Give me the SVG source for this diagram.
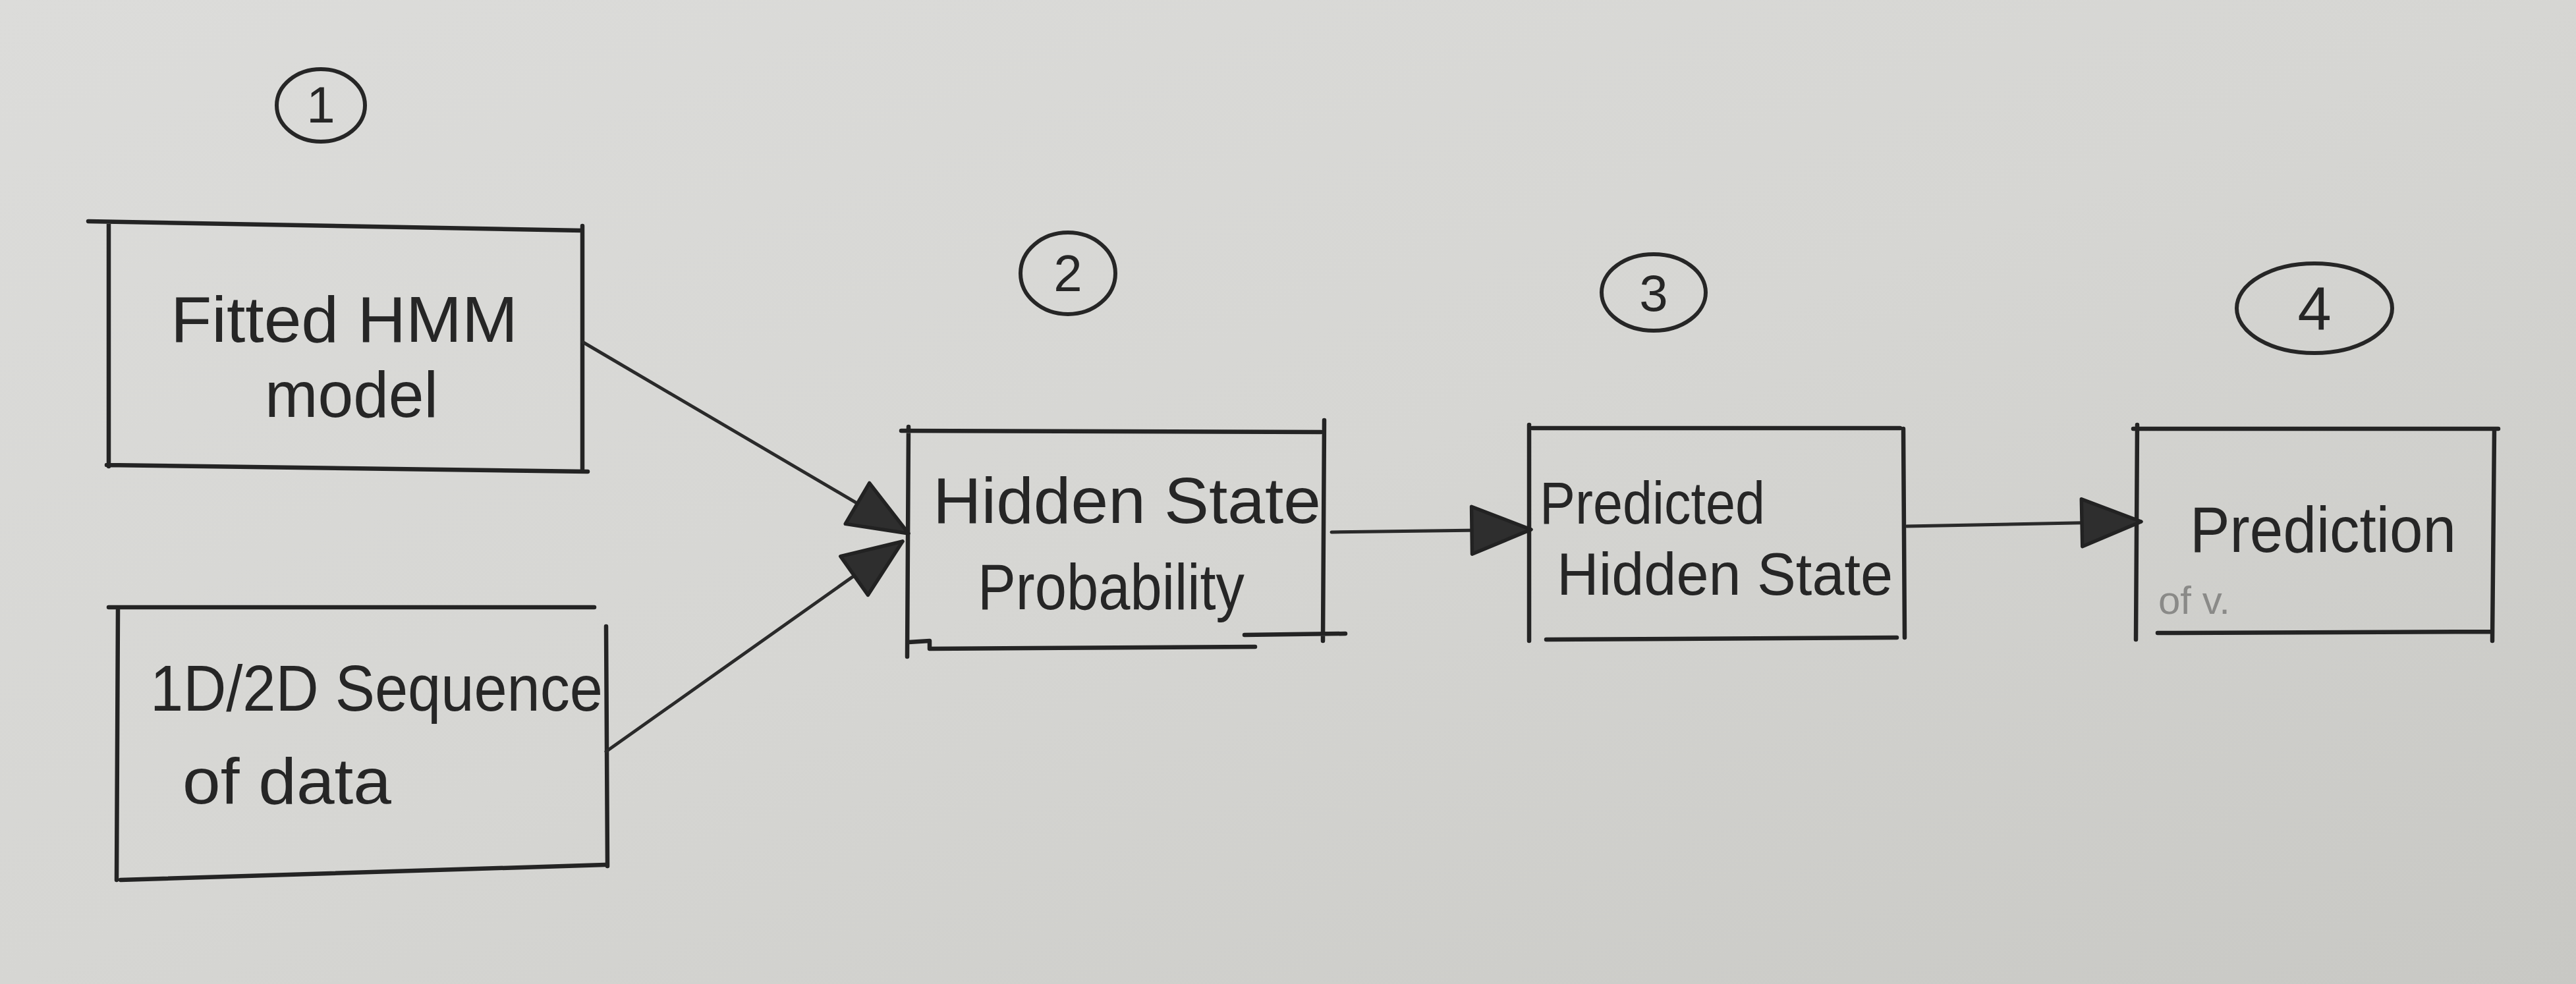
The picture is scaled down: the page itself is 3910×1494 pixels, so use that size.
<svg xmlns="http://www.w3.org/2000/svg" width="3910" height="1494" viewBox="0 0 3910 1494">
<defs>
<linearGradient id="paper" x1="0" y1="0" x2="1" y2="1">
<stop offset="0" stop-color="#dcdcda"/>
<stop offset="0.5" stop-color="#d6d6d3"/>
<stop offset="1" stop-color="#c8c8c4"/>
</linearGradient>
<marker id="ah" viewBox="0 0 12 10" refX="11" refY="5" markerWidth="110" markerHeight="90" markerUnits="userSpaceOnUse" orient="auto">
<path d="M1,1 L11,5 L1,9 Z" fill="#2e2e2e" stroke="#222" stroke-width="0.6" stroke-linejoin="round"/>
</marker>
<style>
.edge{fill:none;stroke:#2a2a2a;stroke-width:5;stroke-linecap:round;marker-end:url(#ah)}
.box{fill:none;stroke:#242424;stroke-width:6.5;stroke-linecap:round;stroke-linejoin:round}
.lbl{font-family:"Liberation Sans",Arial,sans-serif;font-size:98px;fill:#262626}
.num{font-family:"Liberation Sans",Arial,sans-serif;font-size:78px;fill:#262626;text-anchor:middle}
.circ{fill:none;stroke:#262626;stroke-width:6}
.faint{font-family:"Liberation Sans",Arial,sans-serif;font-size:60px;fill:#8a8a88}
</style>
</defs>
<rect width="3910" height="1494" fill="url(#paper)"/>

<g id="step1">
<ellipse class="circ" cx="487" cy="160" rx="67" ry="55"/>
<text class="num" x="487" y="186">1</text>
</g>
<g id="step2">
<ellipse class="circ" cx="1621" cy="415" rx="72" ry="62"/>
<text class="num" x="1621" y="442">2</text>
</g>
<g id="step3">
<ellipse class="circ" cx="2510" cy="444" rx="79" ry="58"/>
<text class="num" x="2510" y="472">3</text>
</g>
<g id="step4">
<ellipse class="circ" cx="3513" cy="468" rx="118" ry="68"/>
<text class="num" x="3513" y="500" style="font-size:92px">4</text>
</g>

<g id="fitted-hmm">
<path class="box" d="M134,336 L884,350 M165,340 L165,708 M884,343 L884,712 M162,706 L892,716"/>
<text class="lbl" x="259" y="519" textLength="527" lengthAdjust="spacingAndGlyphs">Fitted HMM</text>
<text class="lbl" x="402" y="633" textLength="263" lengthAdjust="spacingAndGlyphs">model</text>
</g>

<g id="sequence-data">
<path class="box" d="M165,922 L902,922 M179,925 L177,1336 M920,951 L922,1315 M183,1336 L918,1313"/>
<text class="lbl" x="228" y="1079" textLength="687" lengthAdjust="spacingAndGlyphs">1D/2D Sequence</text>
<text class="lbl" x="277" y="1220" textLength="317" lengthAdjust="spacingAndGlyphs">of data</text>
</g>

<g id="hidden-state-probability">
<path class="box" d="M1368,654 L2005,656 M1379,648 L1377,997 M2010,638 L2008,973 M1379,975 L1411,973 L1411,985 L1905,982 M1889,964 L2042,962"/>
<text class="lbl" x="1416" y="794" textLength="589" lengthAdjust="spacingAndGlyphs">Hidden State</text>
<text class="lbl" x="1484" y="925" textLength="405" lengthAdjust="spacingAndGlyphs">Probability</text>
</g>

<g id="predicted-hidden-state">
<path class="box" d="M2326,650 L2884,650 M2321,645 L2321,973 M2889,651 L2891,968 M2347,971 L2879,968"/>
<text class="lbl" x="2337" y="795" textLength="342" lengthAdjust="spacingAndGlyphs" style="font-size:90px">Predicted</text>
<text class="lbl" x="2363" y="903" textLength="510" lengthAdjust="spacingAndGlyphs" style="font-size:90px">Hidden State</text>
</g>

<g id="prediction">
<path class="box" d="M3238,651 L3792,651 M3244,645 L3242,971 M3786,653 L3783,973 M3275,961 L3783,959"/>
<text class="lbl" x="3324" y="838" textLength="404" lengthAdjust="spacingAndGlyphs">Prediction</text>
<text class="faint" x="3276" y="932">of v.</text>
</g>

<g id="connectors">
<path class="edge" d="M884,519 L1379,810"/>
<path class="edge" d="M920,1141 L1370,822"/>
<path class="edge" d="M2021,808 L2324,804"/>
<path class="edge" d="M2894,799 L3250,792"/>
</g>
</svg>
